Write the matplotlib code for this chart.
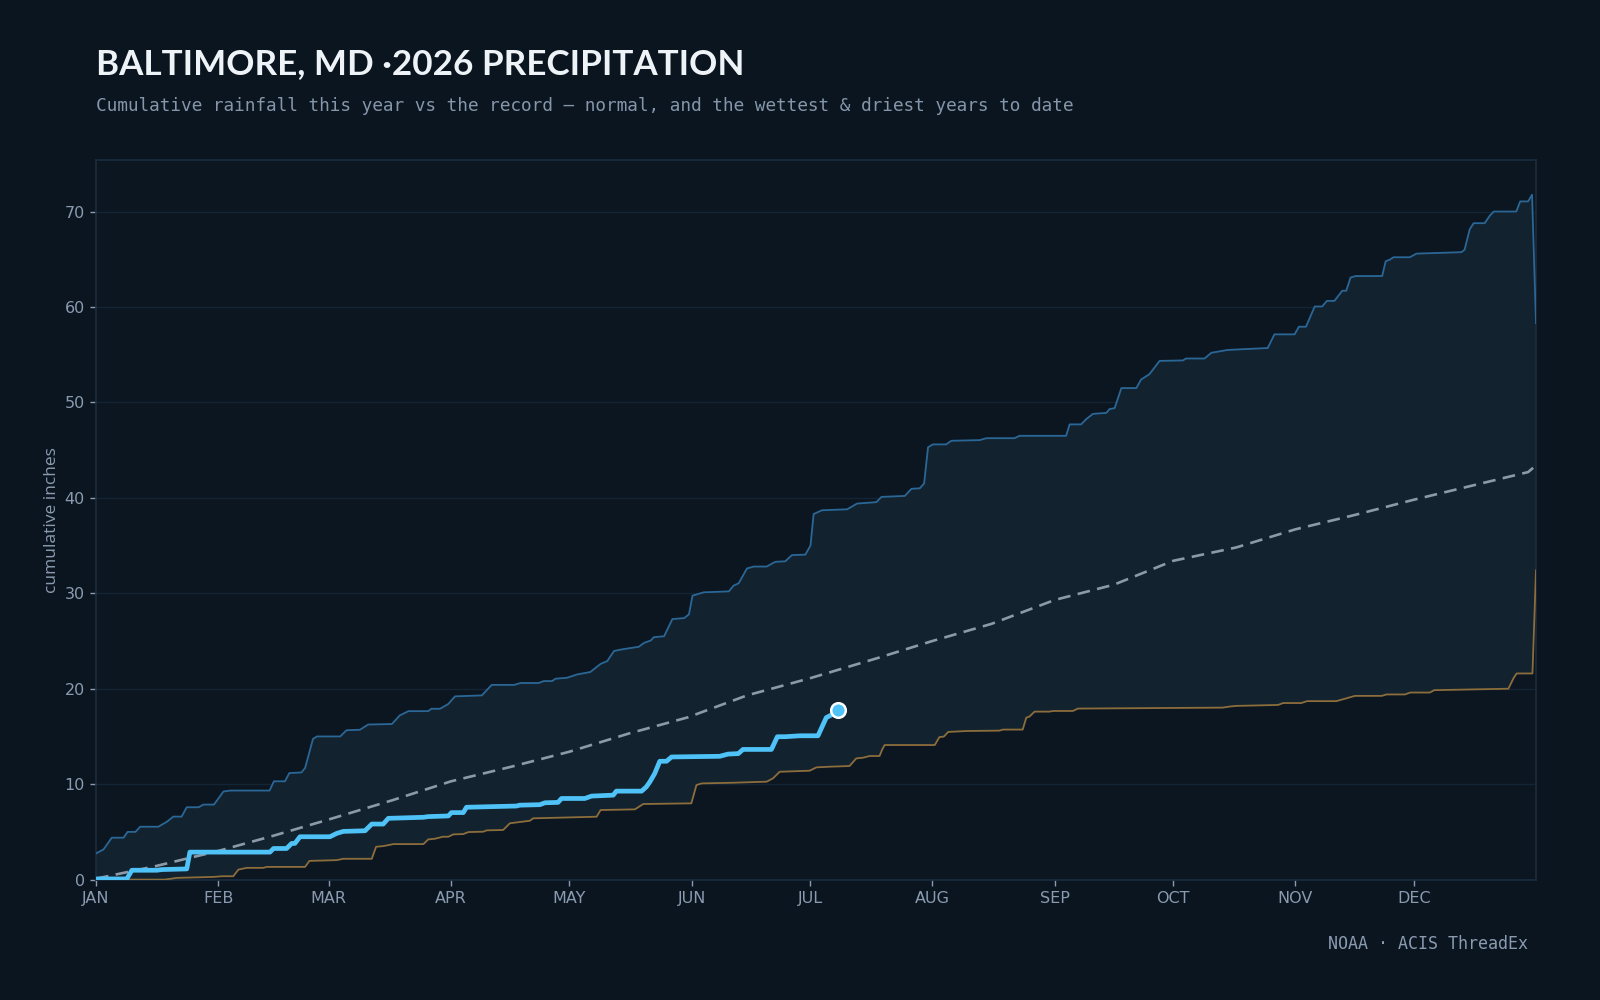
"""Baltimore cumulative precipitation chart."""

import numpy as np
import matplotlib
matplotlib.use("Agg")
import matplotlib.pyplot as plt

# ---- data (day of year, cumulative inches) ----
month_starts = [0, 31, 59, 90, 120, 151, 181, 212, 243, 273, 304, 334]
month_labels = ["JAN", "FEB", "MAR", "APR", "MAY", "JUN",
                "JUL", "AUG", "SEP", "OCT", "NOV", "DEC"]

wet_day = [0, 1.9, 4, 7, 8, 10, 11.2, 15.8, 18, 19.6, 21.7, 23, 26, 27.2, 29.9,
           32.3, 34, 44, 45.1, 47.9, 49, 52.1, 53, 55, 56, 61.9, 63.5, 66.9, 69,
           75, 77, 79.2, 84.2, 85, 87.2, 89.3, 91, 97.8, 100.3, 106, 107.6, 112.2,
           113.5, 115.6, 116.5, 119.4, 122, 125.3, 127.9, 129.6, 131.3, 133, 137.6,
           138.9, 140.6, 141.4, 144, 146.1, 149.1, 150.3, 151.2, 154, 160.4, 161.6,
           162.9, 165, 166.7, 170, 172.2, 174.7, 176.4, 179.8, 181.1, 181.9, 184,
           190.4, 192.9, 197.8, 199.1, 205, 206.7, 208.8, 209.9, 210.9, 212.1,
           215.5, 216.8, 224, 225.7, 232.8, 234.1, 245.9, 246.8, 249.7, 251, 252.7,
           256.1, 256.9, 258.2, 259.9, 263.7, 264.9, 267, 269.6, 275.5, 276.3, 281,
           282.7, 286.9, 297, 298.7, 303.8, 304.9, 306.7, 308.9, 310.8, 312, 313.9,
           315.9, 316.9, 318, 319.3, 326, 326.9, 327.9, 328.9, 333, 334.7, 346.1,
           346.9, 348.2, 349.2, 352, 353.3, 354.3, 360, 361, 363, 364, 365]
wet_in = [2.74, 3.16, 4.39, 4.39, 5.0, 5.0, 5.54, 5.54, 6.07, 6.6, 6.6, 7.58, 7.58,
          7.86, 7.86, 9.23, 9.33, 9.33, 10.3, 10.3, 11.16, 11.23, 11.7, 14.74, 15.0,
          15.0, 15.65, 15.7, 16.25, 16.3, 17.2, 17.65, 17.65, 17.9, 17.9, 18.4, 19.2,
          19.3, 20.4, 20.4, 20.6, 20.6, 20.8, 20.8, 21.05, 21.15, 21.5, 21.75, 22.6,
          22.9, 23.95, 24.1, 24.4, 24.8, 25.05, 25.4, 25.5, 27.3, 27.4, 27.8, 29.75,
          30.1, 30.2, 30.8, 31.05, 32.6, 32.8, 32.8, 33.3, 33.35, 34.0, 34.05, 35.0,
          38.3, 38.7, 38.8, 39.4, 39.55, 40.1, 40.2, 40.95, 41.0, 41.5, 45.3, 45.6,
          45.6, 45.98, 46.05, 46.25, 46.25, 46.5, 46.5, 47.7, 47.7, 48.25, 48.8,
          48.9, 49.3, 49.4, 51.5, 51.5, 52.4, 52.95, 54.35, 54.4, 54.6, 54.6, 55.2,
          55.5, 55.7, 57.13, 57.13, 57.93, 57.93, 60.05, 60.05, 60.64, 60.64, 61.7,
          61.7, 63.09, 63.24, 63.24, 64.79, 64.95, 65.21, 65.21, 65.59, 65.74, 66.0,
          68.14, 68.78, 68.78, 69.57, 70.0, 70.0, 71.06, 71.06, 71.76, 58.3]

dry_day = [0, 17.5, 20.5, 29.8, 31.9, 34.8, 36.1, 38.2, 42.4, 43.3, 53, 54.1, 61,
           62.7, 69.9, 71, 72.8, 75.4, 83, 84.2, 85.9, 87.9, 89.3, 90.6, 93.1, 94.4,
           98.2, 99, 103.2, 104.9, 110, 110.8, 126.9, 127.9, 136.6, 138.7, 150.9,
           152.2, 153.5, 161.5, 170, 171.6, 173.3, 180.9, 182.6, 186, 191, 192.7,
           194.4, 196.1, 198.6, 199.3, 199.9, 212.6, 213.8, 214.9, 216, 220.6, 229,
           229.9, 234.9, 235.8, 236.6, 237.9, 241.7, 242.6, 247.6, 248.9, 285.6,
           287.3, 289, 299.6, 300.9, 305.5, 307, 314.4, 317, 317.8, 319.1, 325.9,
           327.1, 331.8, 333.1, 338.1, 339.2, 351.7, 358, 359.3, 360.1, 364.1, 365]
dry_in = [0, 0, 0.18, 0.28, 0.35, 0.35, 1.05, 1.23, 1.23, 1.33, 1.33, 1.96, 2.04,
          2.18, 2.18, 3.44, 3.51, 3.72, 3.72, 4.21, 4.28, 4.49, 4.49, 4.74, 4.77,
          4.98, 5.02, 5.16, 5.2, 5.9, 6.17, 6.42, 6.59, 7.29, 7.36, 7.92, 7.99, 9.91,
          10.08, 10.15, 10.26, 10.61, 11.3, 11.41, 11.76, 11.83, 11.9, 12.7, 12.77,
          12.95, 12.95, 13.65, 14.1, 14.1, 14.94, 14.98, 15.47, 15.57, 15.61, 15.72,
          15.72, 16.97, 17.08, 17.6, 17.6, 17.67, 17.67, 17.92, 18.02, 18.13, 18.2,
          18.3, 18.5, 18.5, 18.7, 18.7, 19.0, 19.1, 19.25, 19.25, 19.4, 19.4, 19.6,
          19.6, 19.85, 19.95, 20.0, 21.1, 21.6, 21.6, 32.4]

normal_day = [0, 15, 31, 45, 59, 75, 90, 105, 120, 135, 150, 165, 181, 198, 212,
              227, 243, 258, 273, 289, 304, 319, 334, 349, 363, 365]
normal_in = [0.1, 1.4, 3.0, 4.6, 6.3, 8.3, 10.3, 11.8, 13.4, 15.3, 17.0, 19.3, 21.1,
             23.2, 25.0, 26.8, 29.3, 30.9, 33.4, 34.8, 36.7, 38.2, 39.8, 41.3, 42.7,
             43.4]

ytd_day = [0, 7.8, 9.1, 15.4, 16.7, 23, 23.8, 44.1, 45, 48.3, 49.6, 50.4, 51.7,
           59.3, 61, 62.7, 68.2, 69.9, 72.8, 74.1, 83, 84.2, 89.3, 90.1, 93.1, 93.9,
           106.6, 107.4, 112.5, 113.8, 117.1, 118, 123.9, 125.6, 131.1, 131.9, 138.3,
           139.5, 140.4, 141.6, 142.9, 144.6, 145.9, 158.1, 160.2, 162.8, 164, 171.2,
           172.7, 174.6, 178.4, 183, 185.1, 186.4, 188.1]
ytd_in = [0.07, 0.07, 0.98, 0.98, 1.05, 1.12, 2.88, 2.88, 3.26, 3.26, 3.79, 3.79,
          4.49, 4.49, 4.84, 5.05, 5.12, 5.82, 5.82, 6.42, 6.53, 6.6, 6.67, 7.02, 7.02,
          7.58, 7.71, 7.8, 7.85, 8.05, 8.09, 8.5, 8.5, 8.75, 8.85, 9.27, 9.27, 9.72,
          10.25, 11.1, 12.4, 12.4, 12.85, 12.92, 13.15, 13.2, 13.64, 13.64, 14.97,
          14.97, 15.07, 15.07, 16.97, 17.25, 17.82]

# ---- style ----
BG = "#0b1520"
AX_BG = "#0c1621"
BAND = "#12222f"
SPINE = "#1a2d3f"
GRID = "#132433"
MUTED = "#8a9bb0"

plt.rcParams["font.family"] = ["DejaVu Sans"]

fig = plt.figure(figsize=(16, 10), dpi=100, facecolor=BG)
ax = fig.add_axes([0.06, 0.1204, 0.9, 0.7196], facecolor=AX_BG)

ax.fill(np.r_[wet_day, dry_day[::-1]], np.r_[wet_in, dry_in[::-1]],
        color=BAND, lw=0, zorder=1)
ax.plot(wet_day, wet_in, color="#2b6796", lw=1.3, zorder=3)
ax.plot(dry_day, dry_in, color="#8c6d3c", lw=1.3, zorder=3)
ax.plot(normal_day, normal_in, color="#9aa7b4", lw=1.9,
        linestyle=(0, (4.8, 2.8)), alpha=0.9, zorder=4)
ax.plot(ytd_day, ytd_in, color="#4fc3f7", lw=3.4, zorder=5,
        solid_joinstyle="round", solid_capstyle="round")
ax.plot(ytd_day[-1], ytd_in[-1], "o", ms=10.5, mfc="#4fc3f7", mec="white",
        mew=1.8, zorder=6)

ax.set_xlim(0, 365)
ax.set_ylim(0, 75.4)
ax.set_xticks(month_starts)
ax.set_xticklabels(month_labels)
ax.set_yticks(np.arange(0, 71, 10))
ax.grid(axis="y", color=GRID, lw=1)
ax.set_axisbelow(True)
ax.tick_params(colors=MUTED, labelsize=11.5, length=4, width=1, pad=4)
for sp in ax.spines.values():
    sp.set_color(SPINE)
    sp.set_linewidth(1.2)
ax.set_ylabel("cumulative inches", color=MUTED, fontsize=12.5,
              family=["Open Sans", "DejaVu Sans"], labelpad=3)

fig.text(0.06, 0.926, "BALTIMORE, MD \u00b72026 PRECIPITATION",
         color="#eef3f8", fontsize=25.2, fontweight="bold",
         family=["Lato", "DejaVu Sans"], va="baseline")
fig.text(0.06, 0.894,
         "Cumulative rainfall this year vs the record \u2014 normal, and the "
         "wettest & driest years to date",
         color="#8596aa", fontsize=12.8, family=["DejaVu Sans Mono"], va="center")
fig.text(0.9547, 0.056, "NOAA \u00b7 ACIS ThreadEx", color=MUTED, fontsize=12,
         family=["DejaVu Sans Mono"], ha="right", va="center")

fig.savefig("out.png", dpi=100, facecolor=BG)
